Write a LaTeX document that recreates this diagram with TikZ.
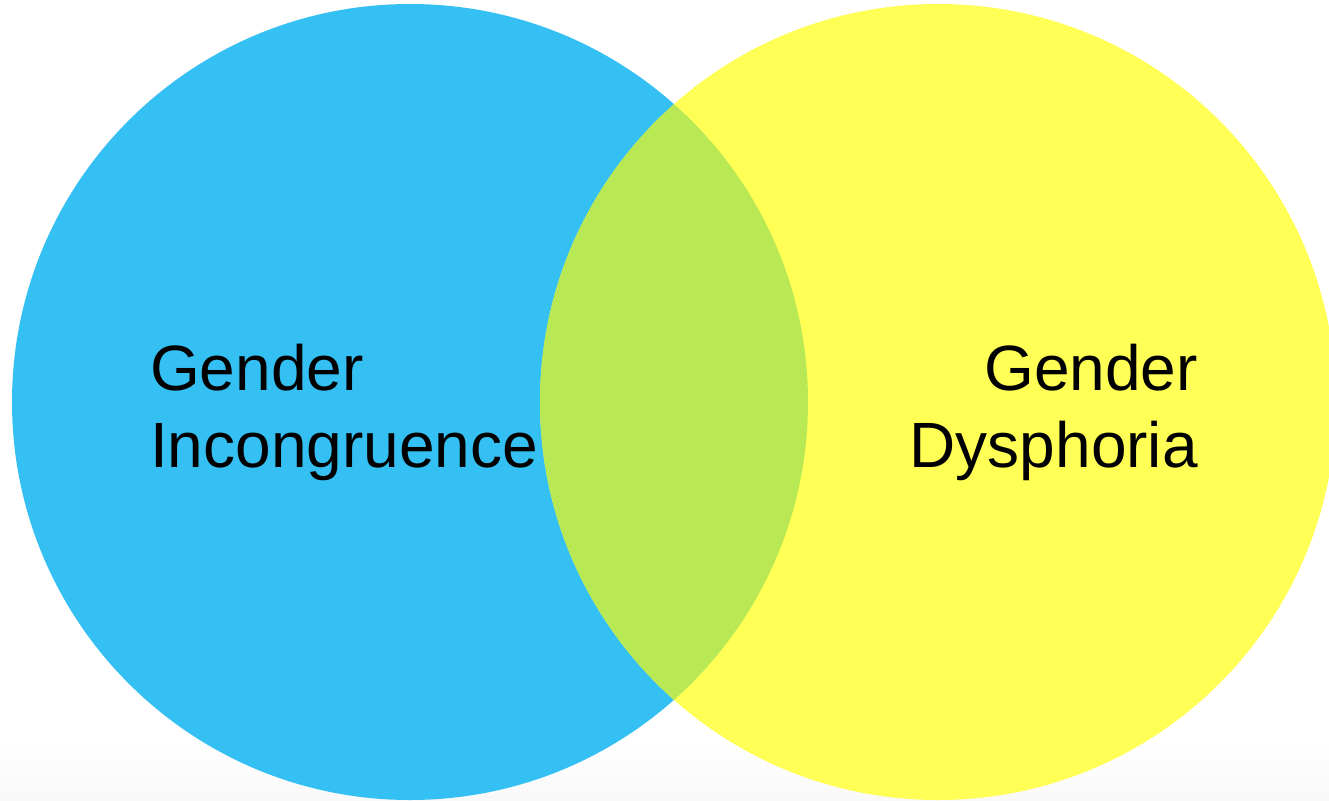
\documentclass[tikz,border=0pt]{standalone}
\usepackage{fontspec}
\setmainfont{Liberation Sans}
\definecolor{cblue}{HTML}{35C0F4}
\definecolor{cyellow}{HTML}{FFFF55}
\definecolor{cgreen}{HTML}{B9E855}
\definecolor{cgrey}{HTML}{F9F9F9}
\begin{document}
\begin{tikzpicture}[x=1pt,y=-1pt,
  lbl/.style={font=\fontsize{64}{77}\selectfont, text=black, inner sep=0pt, align=left},
  rlbl/.style={font=\fontsize{64}{77}\selectfont, text=black, inner sep=0pt, align=right}]
\useasboundingbox (0,0) rectangle (1329,800);
\fill[white] (0,0) rectangle (1329,800);
\shade[top color=white, bottom color=cgrey] (0,740) rectangle (1329,800);
\begin{scope}
\clip (0,0) rectangle (1329,800);
\fill[cblue] (410,402) circle[radius=398];
\fill[cyellow] (938,402) circle[radius=398];
\begin{scope}
\clip (410,402) circle[radius=398];
\fill[cgreen] (938,402) circle[radius=398];
\end{scope}
\end{scope}
\node[lbl, anchor=base west] (gi1) at (150,390) {Gender};
\node[lbl, anchor=base west] (gi2) at (150,467) {Incongruence};
\node[rlbl, anchor=base east] (gd1) at (1198,390) {Gender};
\node[rlbl, anchor=base east] (gd2) at (1198,467) {Dysphoria};
\end{tikzpicture}
\end{document}
